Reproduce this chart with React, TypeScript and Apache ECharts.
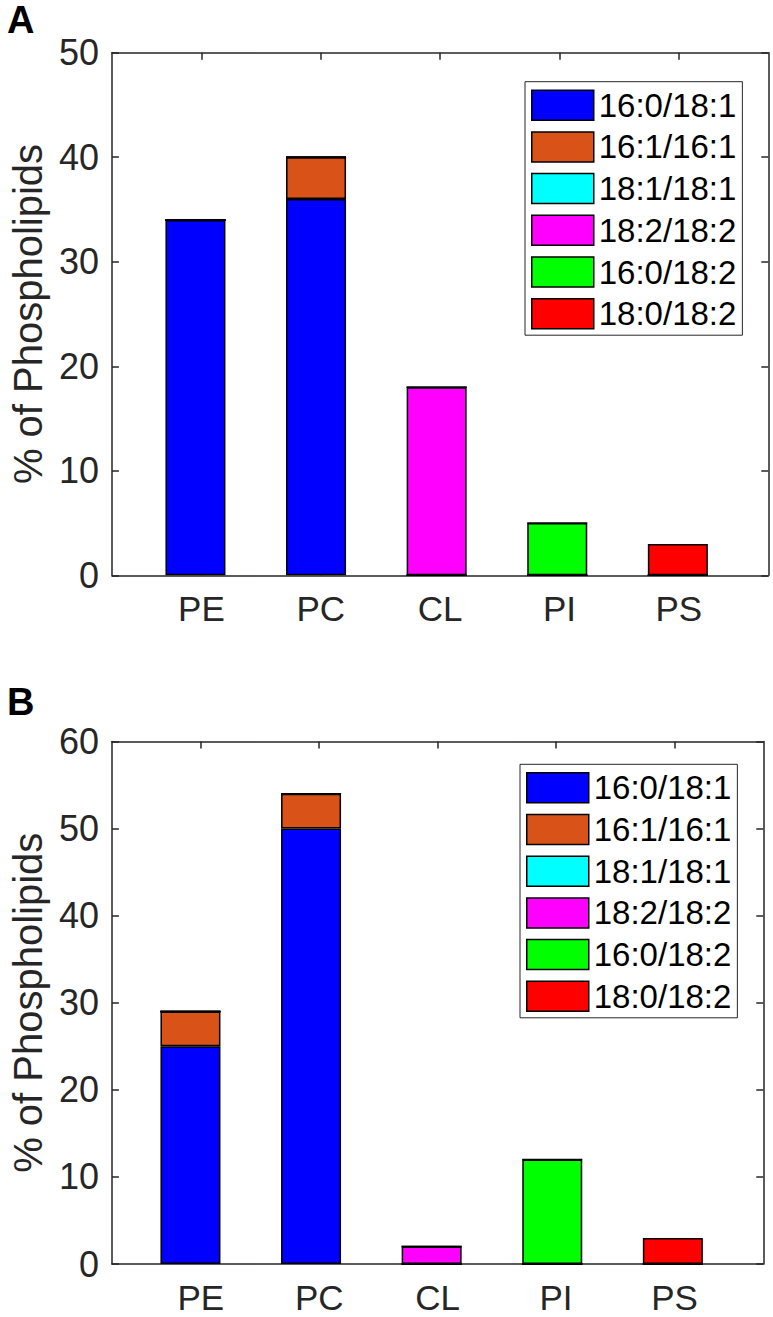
import React, { useEffect, useRef } from "react";
import * as echarts from "echarts";

const categories = ["PE", "PC", "CL", "PI", "PS"];
const seriesNames = ["16:0/18:1", "16:1/16:1", "18:1/18:1", "18:2/18:2", "16:0/18:2", "18:0/18:2"];
const seriesColors = ["#0000FF", "#D95319", "#00FFFF", "#FF00FF", "#00FF00", "#FF0000"];

// Panel A values (per category: PE, PC, CL, PI, PS)
const a_16_0_18_1 = [34, 36, 0, 0, 0];
const a_16_1_16_1 = [0, 4, 0, 0, 0];
const a_18_1_18_1 = [0, 0, 0, 0, 0];
const a_18_2_18_2 = [0, 0, 18, 0, 0];
const a_16_0_18_2 = [0, 0, 0, 5, 0];
const a_18_0_18_2 = [0, 0, 0, 0, 3];

// Panel B values
const b_16_0_18_1 = [25, 50, 0, 0, 0];
const b_16_1_16_1 = [4, 4, 0, 0, 0];
const b_18_1_18_1 = [0, 0, 0, 0, 0];
const b_18_2_18_2 = [0, 0, 2, 0, 0];
const b_16_0_18_2 = [0, 0, 0, 12, 0];
const b_18_0_18_2 = [0, 0, 0, 0, 3];

const yTicksA = [0, 10, 20, 30, 40, 50];
const yTicksB = [0, 10, 20, 30, 40, 50, 60];
const yTitle = "% of Phospholipids";
const panelLabels = ["A", "B"];

const FONT = "'Liberation Sans', Arial, Helvetica, sans-serif";
const AXIS_COLOR = "#262626";

export default function App() {
  const ref = useRef<HTMLDivElement>(null);

  useEffect(() => {
    if (!ref.current) return;
    const chart = echarts.init(ref.current, undefined, { renderer: "svg" });

    const panels = [
      { values: [a_16_0_18_1, a_16_1_16_1, a_18_1_18_1, a_18_2_18_2, a_16_0_18_2, a_18_0_18_2], yTicks: yTicksA },
      { values: [b_16_0_18_1, b_16_1_16_1, b_18_1_18_1, b_18_2_18_2, b_16_0_18_2, b_18_0_18_2], yTicks: yTicksB },
    ];

    // outer axes boxes (x limits 0.25 .. 5.75)
    const outer = [
      { left: 105, right: 4.7, top: 52.7, bottom: 741.7 },
      { left: 100, right: 9.7, top: 741.5, bottom: 53 },
    ];
    const X_MIN = 0.25;
    const X_MAX = 5.75;
    const grids: any[] = [];
    outer.forEach((g) => {
      const width = 773 - g.left - g.right;
      const unit = width / (X_MAX - X_MIN);
      const inset = (0.5 - X_MIN) * unit;
      grids.push({ ...g });
      grids.push({ left: g.left + inset, right: g.right + (X_MAX - (categories.length + 0.5)) * unit, top: g.top, bottom: g.bottom });
    });

    const lineStyle = { color: AXIS_COLOR, width: 1.5 };
    const catTicks = categories.map((_, i) => i + 1);

    const xAxis: any[] = [];
    const yAxis: any[] = [];
    panels.forEach((p, pi) => {
      const og = pi * 2;
      const ig = pi * 2 + 1;
      const base = {
        gridIndex: og,
        type: "value",
        min: X_MIN,
        max: X_MAX,
        splitLine: { show: false },
        axisLine: { show: true, onZero: false, lineStyle },
        axisTick: { show: true, inside: true, length: 7, customValues: catTicks, lineStyle },
      };
      xAxis.push({
        ...base,
        position: "bottom",
        axisLabel: {
          show: true,
          customValues: catTicks,
          formatter: (v: number) => categories[Math.round(v) - 1] ?? "",
          margin: 17,
          fontSize: 35,
          lineHeight: 32,
          color: AXIS_COLOR,
          fontFamily: FONT,
        },
      });
      xAxis.push({ ...base, position: "top", axisLabel: { show: false } });
      xAxis.push({
        gridIndex: ig,
        type: "category",
        data: categories,
        show: false,
      });

      const yMax = p.yTicks[p.yTicks.length - 1];
      const yBase = {
        gridIndex: og,
        type: "value",
        min: p.yTicks[0],
        max: yMax,
        interval: 10,
        splitLine: { show: false },
        axisLine: { show: true, onZero: false, lineStyle },
        axisTick: { show: true, inside: true, length: 7, lineStyle },
      };
      yAxis.push({
        ...yBase,
        position: "left",
        axisLabel: { show: true, margin: 13, fontSize: 36, color: AXIS_COLOR, fontFamily: FONT },
        name: yTitle,
        nameLocation: "middle",
        nameGap: 62,
        nameTextStyle: { fontSize: 40, color: AXIS_COLOR, fontFamily: FONT },
      });
      yAxis.push({ ...yBase, position: "right", axisLabel: { show: false } });
      yAxis.push({ gridIndex: ig, type: "value", min: p.yTicks[0], max: yMax, show: false });
    });

    const series: any[] = [];
    panels.forEach((p, pi) => {
      p.values.forEach((vals, si) => {
        series.push({
          type: "bar",
          name: seriesNames[si],
          xAxisIndex: pi * 3 + 2,
          yAxisIndex: pi * 3 + 2,
          stack: "panel" + pi,
          barWidth: 60,
          data: vals,
          itemStyle: { color: seriesColors[si], borderColor: "#000", borderWidth: 1.5 },
          emphasis: { disabled: true },
        });
      });
    });

    const legendBase = {
      data: seriesNames,
      orient: "vertical",
      itemWidth: 62,
      itemHeight: 30,
      itemGap: 8.7,
      icon: "rect",
      padding: [7, 6, 5, 6],
      borderColor: AXIS_COLOR,
      borderWidth: 1,
      backgroundColor: "#fff",
      selectedMode: false,
      textStyle: { fontSize: 33, color: "#000", fontFamily: FONT },
      itemStyle: { borderColor: "#000", borderWidth: 1.5 },
    };

    chart.setOption({
      animation: false,
      backgroundColor: "#fff",
      grid: grids,
      xAxis,
      yAxis,
      series,
      legend: [
        { ...legendBase, left: 525, top: 81.7 },
        { ...legendBase, left: 520, top: 764.3 },
      ],
      graphic: [
        {
          type: "text",
          x: 7,
          y: 20,
          style: { text: panelLabels[0], fontSize: 38, fontWeight: "bold", fontFamily: FONT, fill: "#000", verticalAlign: "middle" },
        },
        {
          type: "text",
          x: 7,
          y: 702,
          style: { text: panelLabels[1], fontSize: 38, fontWeight: "bold", fontFamily: FONT, fill: "#000", verticalAlign: "middle" },
        },
      ],
    });

    return () => chart.dispose();
  }, []);

  return (
    <div
      ref={ref}
      style={{ position: "absolute", left: 0, top: 0, width: 773, height: 1317, background: "#fff" }}
    />
  );
}
